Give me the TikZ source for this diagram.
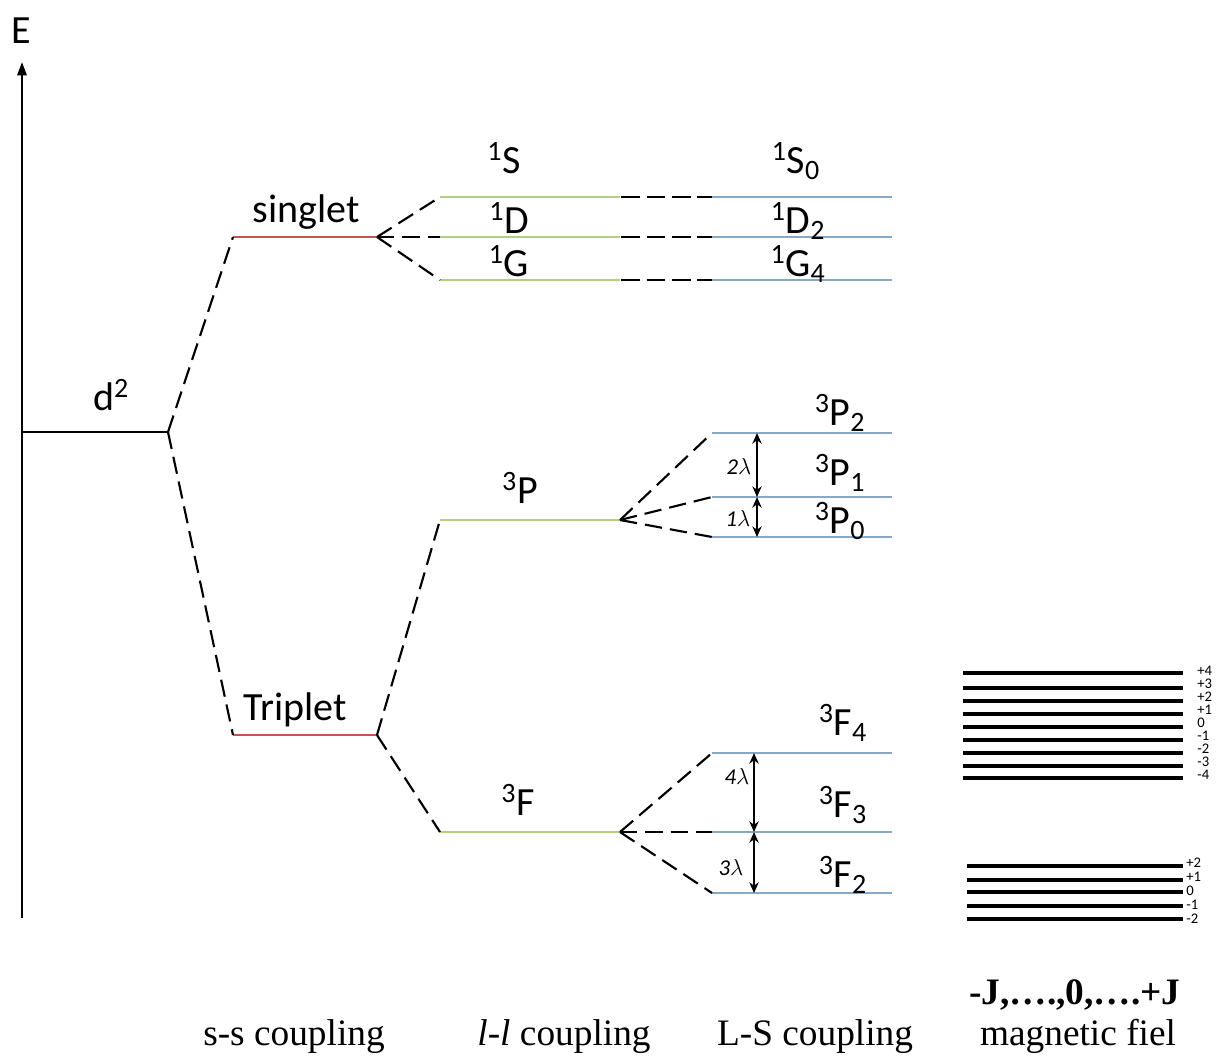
\documentclass[tikz,border=0pt]{standalone}
\usepackage{fontspec}
\setmainfont{Carlito}
\newfontfamily\timesf{Liberation Serif}
\usetikzlibrary{arrows.meta}
\definecolor{lvlred}{RGB}{196,84,80}
\definecolor{lvlgreen}{RGB}{178,206,128}
\definecolor{lvlblue}{RGB}{138,168,198}
\begin{document}
\begin{tikzpicture}[x=0.75pt,y=-0.75pt,
  lvl/.style={line width=2.2pt},
  rl/.style={lvl,draw=lvlred},
  gl/.style={lvl,draw=lvlgreen},
  bl/.style={lvl,draw=lvlblue},
  dsh/.style={line width=1.6pt,dash pattern=on 13pt off 6pt},
  lab/.style={font=\fontsize{30}{36}\selectfont,inner sep=0pt,anchor=base},
  lam/.style={font=\fontsize{17}{19}\selectfont\itshape,inner sep=0pt},
  mj/.style={line width=3pt},
  ml/.style={font=\fontsize{11}{12}\selectfont,inner sep=0pt,anchor=west,text height=6.5pt,text depth=0pt},
  bot/.style={font=\timesf\fontsize{28}{32}\selectfont,inner sep=0pt,anchor=base},
  dbl/.style={line width=1.6pt,{Stealth[length=8pt,width=7pt]}-{Stealth[length=8pt,width=7pt]}}]
\useasboundingbox (0,0) rectangle (1219,1057);
% axis
\coordinate (axB) at (22,918);
\coordinate (axT) at (22,62);
\draw[line width=1.5pt,-{Triangle[length=10pt,width=7pt]}] (axB) -- (axT);
\node[lab] (E) at (21,43) {E};
% d2
\coordinate (d2L) at (22,432);
\coordinate (d2R) at (168,432);
\draw[line width=1.5pt] (d2L) -- (d2R);
\node[lab] (d2) at (111,410) {d\textsuperscript{2}};
% singlet / triplet
\coordinate (sgL) at (233,237); \coordinate (sgR) at (377,237);
\coordinate (trL) at (233,735); \coordinate (trR) at (377,735);
\draw[rl] (sgL) -- (sgR);
\draw[rl] (trL) -- (trR);
\draw[dsh] (d2R) -- (sgL);
\draw[dsh] (d2R) -- (trL);
\node[lab] (sg) at (306,222) {singlet};
\node[lab] (tr) at (295,720) {Triplet};
% singlet terms
\coordinate (SL) at (440,197); \coordinate (SR) at (620,197);
\coordinate (DL) at (440,237); \coordinate (DR) at (620,237);
\coordinate (GL) at (440,280); \coordinate (GR) at (620,280);
\draw[gl] (SL) -- (SR); \draw[gl] (DL) -- (DR); \draw[gl] (GL) -- (GR);
\draw[dsh] (sgR) -- (SL); \draw[dsh] (sgR) -- (DL); \draw[dsh] (sgR) -- (GL);
\node[lab] (lS) at (504,173) {\textsuperscript{1}S};
\node[lab] (lD) at (509,233) {\textsuperscript{1}D};
\node[lab] (lG) at (509,276) {\textsuperscript{1}G};
\coordinate (S0L) at (712,197); \coordinate (S0R) at (892,197);
\coordinate (D2L) at (712,237); \coordinate (D2R) at (892,237);
\coordinate (G4L) at (712,280); \coordinate (G4R) at (892,280);
\draw[bl] (S0L) -- (S0R); \draw[bl] (D2L) -- (D2R); \draw[bl] (G4L) -- (G4R);
\draw[dsh,dash pattern=on 14pt off 5pt,dash phase=-1pt] (SR) -- (S0L);
\draw[dsh,dash pattern=on 14pt off 5pt,dash phase=-1pt] (DR) -- (D2L);
\draw[dsh,dash pattern=on 14pt off 5pt,dash phase=-1pt] (GR) -- (G4L);
\node[lab] (lS0) at (796,173) {\textsuperscript{1}S\textsubscript{0}};
\node[lab] (lD2) at (798,233) {\textsuperscript{1}D\textsubscript{2}};
\node[lab] (lG4) at (798,276) {\textsuperscript{1}G\textsubscript{4}};
% 3P
\coordinate (PL) at (440,520); \coordinate (PR) at (620,520);
\draw[gl] (PL) -- (PR);
\draw[dsh] (trR) -- (PL);
\node[lab] (lP) at (520,503) {\textsuperscript{3}P};
\coordinate (P2L) at (712,433); \coordinate (P2R) at (892,433);
\coordinate (P1L) at (712,497); \coordinate (P1R) at (892,497);
\coordinate (P0L) at (712,537); \coordinate (P0R) at (892,537);
\draw[bl] (P2L) -- (P2R); \draw[bl] (P1L) -- (P1R); \draw[bl] (P0L) -- (P0R);
\draw[dsh] (PR) -- (P2L); \draw[dsh] (PR) -- (P1L); \draw[dsh] (PR) -- (P0L);
\node[lab] (lP2) at (840,425) {\textsuperscript{3}P\textsubscript{2}};
\node[lab] (lP1) at (840,485) {\textsuperscript{3}P\textsubscript{1}};
\node[lab] (lP0) at (840,533) {\textsuperscript{3}P\textsubscript{0}};
\coordinate (a1t) at (757,433); \coordinate (a1b) at (757,497);
\coordinate (a2t) at (757,497); \coordinate (a2b) at (757,537);
\draw[dbl] (a1t) -- (a1b);
\draw[dbl] (a2t) -- (a2b);
\node[lam] (l2) at (739,466) {2$\lambda$};
\node[lam] (l1) at (738,518) {1$\lambda$};
% 3F
\coordinate (FL) at (440,832); \coordinate (FR) at (620,832);
\draw[gl] (FL) -- (FR);
\draw[dsh] (trR) -- (FL);
\node[lab] (lF) at (518,815) {\textsuperscript{3}F};
\coordinate (F4L) at (712,753); \coordinate (F4R) at (892,753);
\coordinate (F3L) at (712,832); \coordinate (F3R) at (892,832);
\coordinate (F2L) at (712,893); \coordinate (F2R) at (892,893);
\draw[bl] (F4L) -- (F4R); \draw[bl] (F3L) -- (F3R); \draw[bl] (F2L) -- (F2R);
\draw[dsh] (FR) -- (F4L); \draw[dsh] (FR) -- (F3L); \draw[dsh] (FR) -- (F2L);
\node[lab] (lF4) at (843,735) {\textsuperscript{3}F\textsubscript{4}};
\node[lab] (lF3) at (843,817) {\textsuperscript{3}F\textsubscript{3}};
\node[lab] (lF2) at (843,887) {\textsuperscript{3}F\textsubscript{2}};
\coordinate (a4t) at (754,753); \coordinate (a4b) at (754,832);
\coordinate (a3t) at (754,832); \coordinate (a3b) at (754,893);
\draw[dbl] (a4t) -- (a4b);
\draw[dbl] (a3t) -- (a3b);
\node[lam] (l4) at (737,776) {4$\lambda$};
\node[lam] (l3) at (731,868) {3$\lambda$};
% magnetic sublevels J=4
\foreach \y/\t/\ty [count=\i] in {673/+4/671,688/+3/684,701/+2/697,714/+1/710,727/0/723,740/-1/736,753/-2/749,766/-3/762,778/-4/775}{
  \draw[mj] (963,\y) coordinate (m4a\i) -- (1183,\y) coordinate (m4b\i);
  \node[ml] (m4l\i) at (1197,\ty) {\t};
}
% J=2
\foreach \y/\t/\ty [count=\i] in {866/+2/863,880/+1/877,892/0/891,906/-1/905,919/-2/919}{
  \draw[mj] (967,\y) coordinate (m2a\i) -- (1183,\y) coordinate (m2b\i);
  \node[ml] (m2l\i) at (1186,\ty) {\t};
}
% bottom texts
\node[bot,font=\timesf\bfseries\fontsize{28}{32}\selectfont] (mj) at (1075,1004) {-J,….,0,….+J};
\node[bot] (ss) at (294,1045) {s-s coupling};
\node[bot] (ll) at (564,1045) {\textit{l}-\textit{l} coupling};
\node[bot] (LS) at (815,1045) {L-S coupling};
\node[bot] (mf) at (1078,1045) {magnetic fiel};
\end{tikzpicture}
\end{document}
